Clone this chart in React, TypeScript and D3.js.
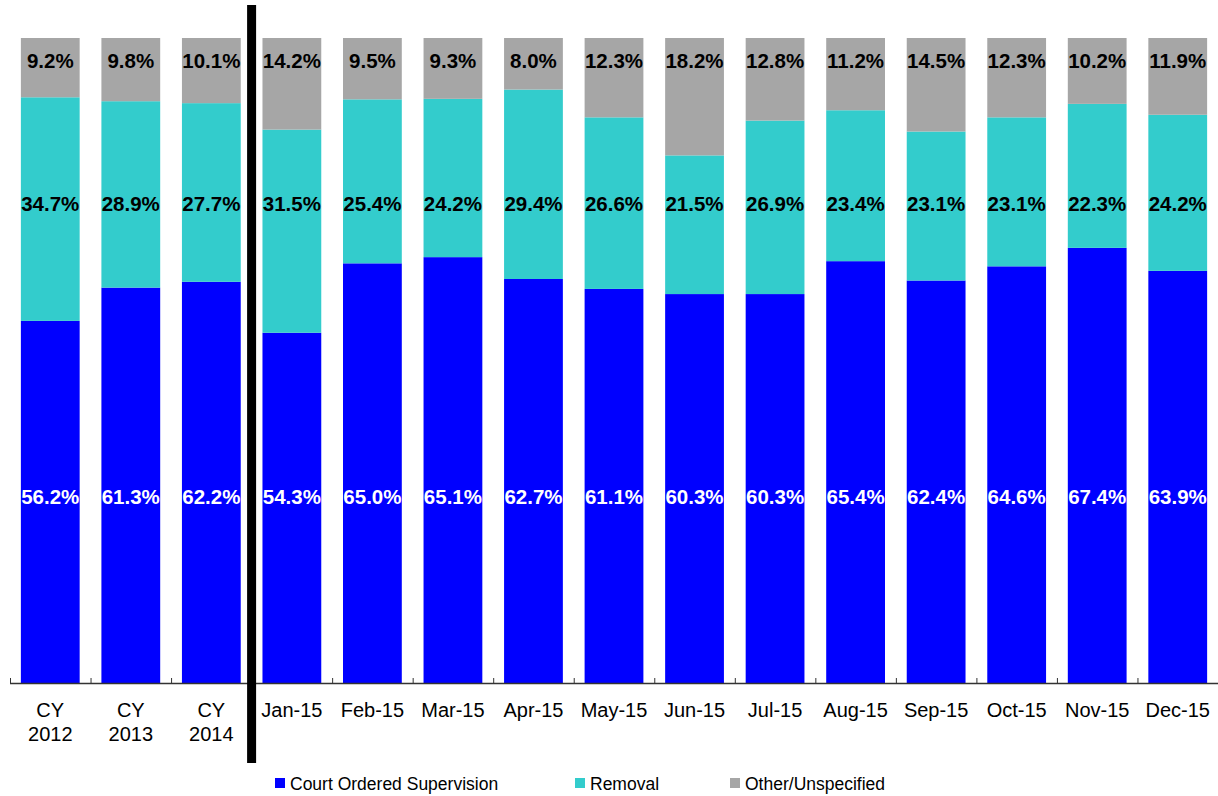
import React, { useEffect, useRef } from 'react';
import * as d3 from 'd3';

const categories = ['CY 2012', 'CY 2013', 'CY 2014', 'Jan-15', 'Feb-15', 'Mar-15', 'Apr-15', 'May-15',
  'Jun-15', 'Jul-15', 'Aug-15', 'Sep-15', 'Oct-15', 'Nov-15', 'Dec-15'];

const courtOrdered = [56.2, 61.3, 62.2, 54.3, 65.0, 65.1, 62.7, 61.1, 60.3, 60.3, 65.4, 62.4, 64.6, 67.4, 63.9];
const removal = [34.7, 28.9, 27.7, 31.5, 25.4, 24.2, 29.4, 26.6, 21.5, 26.9, 23.4, 23.1, 23.1, 22.3, 24.2];
const other = [9.2, 9.8, 10.1, 14.2, 9.5, 9.3, 8.0, 12.3, 18.2, 12.8, 11.2, 14.5, 12.3, 10.2, 11.9];

const seriesNames = ['Court Ordered Supervision', 'Removal', 'Other/Unspecified'];
const seriesColors = ['#0000ff', '#33cccc', '#a6a6a6'];

const W = 1218;
const H = 796;
const FONT = '"Liberation Sans", Arial, sans-serif';

export default function App() {
  const svgRef = useRef<SVGSVGElement>(null);

  useEffect(() => {
    document.body.style.margin = '0';
    if (!svgRef.current) return;

    d3.select(svgRef.current).selectAll('*').remove();
    const svg = d3.select(svgRef.current);

    const axisY = 683;
    const x = d3.scaleBand<string>()
      .domain(categories)
      .range([10, W])
      .paddingInner(0.27)
      .paddingOuter(0.135);
    const y = d3.scaleLinear().domain([0, 1]).range([axisY, 38]);

    const rows = categories.map((c, i) => ({ cat: c, s0: courtOrdered[i], s1: removal[i], s2: other[i] }));
    const keys = ['s0', 's1', 's2'];
    const stack = d3.stack<any>().keys(keys).offset(d3.stackOffsetExpand);
    const layers = stack(rows);

    // bars
    layers.forEach((layer, li) => {
      svg.append('g')
        .selectAll('rect')
        .data(layer)
        .enter()
        .append('rect')
        .attr('x', d => x(d.data.cat)!)
        .attr('width', x.bandwidth())
        .attr('y', d => y(d[1]))
        .attr('height', d => y(d[0]) - y(d[1]))
        .attr('fill', seriesColors[li]);
    });

    // value labels (fixed rows, like the original)
    const labelY = [497, 204, 61];
    const labelColor = ['#ffffff', '#000000', '#000000'];
    const values = [courtOrdered, removal, other];
    values.forEach((vals, si) => {
      svg.append('g')
        .selectAll('text')
        .data(vals)
        .enter()
        .append('text')
        .attr('x', (d, i) => x(categories[i])! + x.bandwidth() / 2)
        .attr('y', labelY[si])
        .attr('dy', '0.35em')
        .attr('text-anchor', 'middle')
        .attr('font-family', FONT)
        .attr('font-weight', 'bold')
        .attr('font-size', 20.5)
        .attr('fill', labelColor[si])
        .text(d => `${d.toFixed(1)}%`);
    });

    // x axis
    const step = x.step();
    const start = x.range()[0];
    svg.append('line')
      .attr('x1', start).attr('x2', W)
      .attr('y1', axisY + 0.5).attr('y2', axisY + 0.5)
      .attr('stroke', '#333').attr('stroke-width', 1.5);
    svg.append('g')
      .selectAll('line')
      .data(d3.range(categories.length + 1))
      .enter()
      .append('line')
      .attr('x1', i => start + i * step + 0.5)
      .attr('x2', i => start + i * step + 0.5)
      .attr('y1', axisY - 5)
      .attr('y2', axisY)
      .attr('stroke', '#333');

    const labels = svg.append('g')
      .selectAll('text')
      .data(categories)
      .enter()
      .append('text')
      .attr('x', d => x(d)! + x.bandwidth() / 2)
      .attr('y', 717)
      .attr('text-anchor', 'middle')
      .attr('font-family', FONT)
      .attr('font-size', 20)
      .attr('fill', '#000');
    labels.each(function (d) {
      const t = d3.select(this);
      const parts = d.startsWith('CY') ? d.split(' ') : [d];
      parts.forEach((p, k) => {
        t.append('tspan')
          .attr('x', x(d)! + x.bandwidth() / 2)
          .attr('dy', k === 0 ? 0 : 24)
          .text(p);
      });
    });

    // separator between yearly and monthly data
    const sepX = x('Jan-15')! - (step * x.paddingInner()) / 2;
    svg.append('rect')
      .attr('x', sepX - 4.5)
      .attr('y', 5)
      .attr('width', 9)
      .attr('height', 758)
      .attr('fill', '#000');

    // legend
    const legendX = [275, 575, 730];
    const legend = svg.append('g')
      .selectAll('g')
      .data(seriesNames)
      .enter()
      .append('g')
      .attr('transform', (d, i) => `translate(${legendX[i]},778)`);
    legend.append('rect')
      .attr('width', 10)
      .attr('height', 10)
      .attr('fill', (d, i) => seriesColors[i]);
    legend.append('text')
      .attr('x', 15)
      .attr('y', 12)
      .attr('font-family', FONT)
      .attr('font-size', 17.5)
      .attr('fill', '#000')
      .text(d => d);
  }, []);

  return <svg ref={svgRef} width={W} height={H} style={{ display: 'block' }} />;
}
